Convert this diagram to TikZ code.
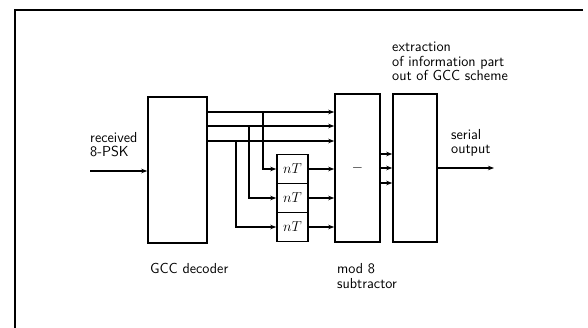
\documentclass[tikz,border=0pt]{standalone}
\usepackage{fontspec}
\usetikzlibrary{arrows.meta}
\begin{document}
\begin{tikzpicture}[x=1pt,y=-1pt,
  font=\sffamily\fontsize{14.5}{14.5}\selectfont,
  box/.style={draw,line width=1.6pt,inner sep=0pt},
  arr/.style={line width=1.3pt,-{Stealth[length=6pt,width=4.5pt]}},
  lbl/.style={inner sep=0pt,anchor=base west,align=left}]
\useasboundingbox (0,0) rectangle (588,328);
\draw[line width=1.6pt] (583,10) -- (15,10) -- (15,328);
% blocks
\node[box,minimum width=59pt,minimum height=146pt] (gcc) at (177.5,170) {};
\node[box,minimum width=31pt,minimum height=29pt] (nt1) at (292.5,169) {$nT$};
\node[box,minimum width=31pt,minimum height=29pt] (nt2) at (292.5,198) {$nT$};
\node[box,minimum width=31pt,minimum height=29pt] (nt3) at (292.5,227) {$nT$};
\node[box,minimum width=45pt,minimum height=148pt] (mod) at (357.5,168) {$-$};
\node[box,minimum width=44pt,minimum height=148pt] (ext) at (415,168) {};
% levels
\coordinate (in) at (90,171);
\coordinate (y1) at (0,112);
\coordinate (y2) at (0,126);
\coordinate (y3) at (0,141);
\coordinate (b1) at (263,112);
\coordinate (b2) at (249,126);
\coordinate (b3) at (236,141);
\coordinate (z1) at (0,154);
\coordinate (z2) at (0,168);
\coordinate (z3) at (0,183);
\coordinate (out) at (494,168);
% connectors
\draw[arr] (in) -- (gcc.west |- in);
\draw[arr] (gcc.east |- y1) -- (mod.west |- y1);
\draw[arr] (gcc.east |- y2) -- (mod.west |- y2);
\draw[arr] (gcc.east |- y3) -- (mod.west |- y3);
\draw[arr] (b1) |- (nt1.west);
\draw[arr] (b2) |- (nt2.west);
\draw[arr] (b3) |- (nt3.west);
\draw[arr] (nt1.east) -- (mod.west |- nt1.east);
\draw[arr] (nt2.east) -- (mod.west |- nt2.east);
\draw[arr] (nt3.east) -- (mod.west |- nt3.east);
\draw[arr] (mod.east |- z1) -- (ext.west |- z1);
\draw[arr] (mod.east |- z2) -- (ext.west |- z2);
\draw[arr] (mod.east |- z3) -- (ext.west |- z3);
\draw[arr] (ext.east |- out) -- (out);
% labels (base = last line)
\node[lbl] (rcv) at (90,157) {received\\8-PSK};
\node[lbl] (gccl) at (150,273) {GCC decoder};
\node[lbl] (modl) at (337,288) {mod 8\\subtractor};
\node[lbl] (extl) at (392,81) {extraction\\of information part\\out of GCC scheme};
\node[lbl] (serl) at (451,154) {serial\\output};
\end{tikzpicture}
\end{document}
